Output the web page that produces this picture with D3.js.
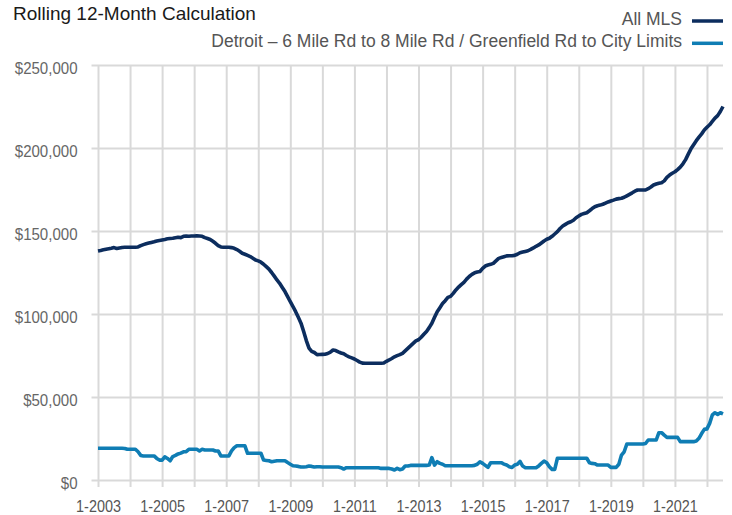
<!DOCTYPE html>
<html>
<head>
<meta charset="utf-8">
<script src="https://cdn.jsdelivr.net/npm/d3@7/dist/d3.min.js"></script>
<style>
  body { margin: 0; background: #fff; }
  svg { display: block; font-family: "Liberation Sans", Arial, sans-serif; }
</style>
</head>
<body>
<svg id="chart" width="732" height="515"></svg>
<script>
// Monthly values, $ thousands, 1-2003 .. 7-2022
const startYear = 2003;

const allMLS = [
  138.0, 138.3, 138.7, 139.0, 139.3, 139.6, 140.0, 139.5, 139.8, 140.1, 140.2, 140.2,
  140.2, 140.2, 140.2, 140.4, 141.2, 141.8, 142.3, 142.7, 143.1, 143.5, 144.0, 144.3,
  144.6, 144.9, 145.3, 145.5, 145.6, 145.9, 146.2, 146.0, 146.8, 147.0, 146.8, 147.0,
  147.0, 147.1, 147.0, 146.8, 146.0, 145.5, 144.9, 143.8, 142.6, 141.2, 140.4, 140.2,
  140.2, 140.2, 140.0, 139.6, 138.8, 137.8, 136.6, 136.0, 135.3, 134.6, 133.6, 132.5,
  132.0, 131.2, 130.0, 128.5, 127.0, 125.0, 122.8, 120.5, 118.5, 116.0, 113.5, 110.5,
  107.4, 104.5, 101.4, 98.0, 94.5, 89.5, 84.0, 79.5, 77.5, 76.8, 75.5, 75.6,
  75.7, 75.8, 76.2, 77.0, 78.3, 78.0, 77.2, 76.5, 76.0, 75.0, 74.2, 73.6,
  72.9, 72.0, 71.0, 70.4, 70.3, 70.3, 70.3, 70.3, 70.3, 70.3, 70.3, 70.5,
  71.5, 72.3, 73.2, 74.2, 74.9, 75.5, 76.3, 77.8, 79.3, 80.8, 82.3, 83.8,
  84.5, 86.0, 87.8, 89.5, 91.8, 94.4, 98.0, 101.4, 103.8, 106.3, 108.0, 110.0,
  110.6, 112.4, 114.5, 116.2, 117.7, 119.1, 121.0, 122.6, 123.9, 124.8, 125.3, 125.6,
  127.5, 128.9, 129.5, 129.9, 130.5, 132.0, 133.5, 134.0, 134.5, 135.0, 135.1, 135.1,
  135.3, 136.0, 136.9, 137.3, 137.7, 138.1, 138.9, 139.8, 140.8, 141.6, 142.8, 144.0,
  145.0, 145.6, 146.8, 148.2, 149.6, 151.5, 153.0, 154.0, 155.0, 155.6, 156.5, 158.0,
  159.0, 160.0, 160.5, 161.0, 162.2, 163.5, 164.6, 165.2, 165.6, 166.1, 166.8, 167.5,
  168.1, 168.6, 169.2, 169.5, 169.7, 170.3, 171.2, 172.1, 173.0, 174.0, 174.7, 174.7,
  174.7, 174.7, 175.5, 176.5, 177.7, 178.3, 178.8, 179.1, 180.2, 182.3, 183.7, 184.8,
  185.7, 187.0, 188.5, 190.5, 193.0, 196.3, 199.5, 202.0, 204.4, 206.5, 208.5, 210.8,
  212.5, 214.0, 216.0, 218.0, 219.5, 222.0, 225.0
];

const detroit = [
  19.1, 19.1, 19.1, 19.1, 19.1, 19.1, 19.1, 19.1, 19.1, 19.1, 19.0, 18.5,
  18.5, 18.5, 18.5, 17.0, 14.8, 14.5, 14.5, 14.5, 14.5, 14.5, 13.0, 12.0,
  12.0, 14.0, 13.0, 11.6, 14.1, 14.8, 15.7, 16.2, 17.0, 17.1, 18.5, 18.5,
  18.5, 18.5, 17.5, 18.5, 18.1, 18.1, 18.1, 18.1, 17.5, 17.5, 14.5, 14.5,
  14.5, 14.5, 17.5, 19.5, 20.6, 20.6, 20.6, 20.6, 16.1, 16.1, 16.1, 16.1,
  16.1, 16.1, 12.0, 11.8, 11.6, 11.0, 11.3, 11.6, 11.6, 11.6, 11.6, 10.5,
  9.5, 8.6, 8.4, 8.2, 7.8, 7.8, 8.0, 8.4, 8.2, 7.8, 8.0, 8.0,
  7.8, 7.8, 7.8, 7.8, 7.8, 7.8, 7.8, 7.4, 6.6, 7.4, 7.4, 7.4,
  7.4, 7.4, 7.4, 7.4, 7.4, 7.4, 7.4, 7.4, 7.4, 7.4, 7.0, 7.0,
  7.0, 7.0, 6.6, 6.0, 7.0, 6.2, 6.6, 8.4, 8.4, 8.8, 8.8, 8.8,
  8.8, 8.8, 8.8, 8.8, 9.0, 13.5, 9.0, 11.0, 10.0, 9.5, 8.6, 8.6,
  8.6, 8.6, 8.6, 8.6, 8.6, 8.6, 8.6, 8.6, 8.6, 8.8, 9.5, 11.0,
  10.0, 8.8, 7.6, 10.4, 10.4, 10.4, 10.4, 10.4, 9.6, 9.0, 8.0, 7.6,
  9.0, 9.5, 11.2, 8.4, 7.4, 7.4, 7.4, 7.4, 7.4, 8.5, 10.0, 11.4,
  10.4, 8.0, 6.4, 6.4, 13.1, 13.1, 13.1, 13.1, 13.1, 13.1, 13.1, 13.1,
  13.1, 13.1, 13.1, 13.1, 10.4, 10.0, 9.8, 9.0, 9.0, 9.0, 9.0, 9.0,
  7.6, 7.6, 7.6, 9.5, 15.0, 17.0, 21.7, 21.7, 21.7, 21.7, 21.7, 21.7,
  21.7, 22.0, 24.1, 24.1, 24.1, 24.1, 28.5, 28.5, 27.0, 25.7, 25.7, 25.7,
  25.7, 25.7, 23.1, 23.1, 23.1, 23.1, 23.1, 23.1, 23.5, 25.1, 28.0, 30.5,
  30.8, 34.1, 39.2, 40.5, 39.5, 40.5, 39.8
];

const yTicks = [0, 50000, 100000, 150000, 200000, 250000];
const seriesNames = ['All MLS', 'Detroit \u2013 6 Mile Rd to 8 Mile Rd / Greenfield Rd to City Limits'];
const seriesColors = ['#0c2d5e', '#0f7db4'];

const svg = d3.select('#chart');

const margin = { left: 98, right: 9, top: 65, bottom: 35 };
const W = 732, H = 515;

const x = d3.scaleLinear()
    .domain([0, allMLS.length - 1])
    .range([margin.left, W - margin.right]);
const y = d3.scaleLinear()
    .domain([0, 250000])
    .range([H - margin.bottom, margin.top]);

// squeeze text a bit, the original face is narrower than Liberation Sans
function squeeze(sel, f) {
    sel.each(function() {
        let w = this.getComputedTextLength();
        if (w > 0) d3.select(this).attr('textLength', w * f).attr('lengthAdjust', 'spacingAndGlyphs');
    });
}

// Horizontal grid + y labels
const yAxis = svg.append('g')
    .attr('transform', `translate(${margin.left - 6.5},0)`)
    .call(d3.axisLeft(y)
        .tickValues(yTicks)
        .tickSize(-(W - margin.right - margin.left + 6.5))
        .tickPadding(14)
        .tickFormat(d => '$' + d3.format(',')(d)));
yAxis.select('.domain').remove();
yAxis.selectAll('line').attr('stroke', '#d9d9d9').attr('stroke-width', 2);
yAxis.selectAll('text')
    .attr('fill', '#666')
    .attr('font-size', 16)
    .attr('dy', '0.55em')
    .call(squeeze, 0.94);

// Vertical grid (each January) + x labels (odd years)
const januaries = d3.range(0, allMLS.length, 12);
const xAxis = svg.append('g')
    .attr('transform', `translate(0,${y(0)})`)
    .call(d3.axisBottom(x)
        .tickValues(januaries)
        .tickSize(-(y(0) - y(250000)))
        .tickFormat(d => {
            let yr = startYear + d / 12;
            return yr % 2 == 1 ? '1-' + yr : '';
        }));
xAxis.select('.domain').remove();
xAxis.selectAll('line')
    .attr('y1', 7)
    .attr('stroke', '#d9d9d9')
    .attr('stroke-width', 2);
xAxis.selectAll('text')
    .attr('fill', '#555')
    .attr('font-size', 16)
    .attr('y', 31.5)
    .attr('dy', 0)
    .call(squeeze, 0.9);

// Lines
const line = d3.line()
    .x((d, i) => x(i))
    .y(d => y(d * 1000));

[allMLS, detroit].forEach((s, i) => {
    svg.append('path')
        .datum(s)
        .attr('fill', 'none')
        .attr('stroke', seriesColors[i])
        .attr('stroke-width', 3.6)
        .attr('stroke-linejoin', 'round')
        .attr('d', line);
});

// Title
svg.append('text')
    .attr('x', 13)
    .attr('y', 19.5)
    .attr('font-size', 19)
    .attr('fill', '#1a1a1a')
    .text('Rolling 12-Month Calculation');

// Legend
const legY = [25, 47];
const swY = [21, 43.3];
seriesNames.forEach((name, i) => {
    svg.append('text')
        .attr('x', 682)
        .attr('y', legY[i])
        .attr('text-anchor', 'end')
        .attr('font-size', 17.5)
        .attr('fill', '#555')
        .text(name);
    svg.append('line')
        .attr('x1', 692).attr('x2', 723)
        .attr('y1', swY[i]).attr('y2', swY[i])
        .attr('stroke', seriesColors[i])
        .attr('stroke-width', 3.5);
});
</script>
</body>
</html>
